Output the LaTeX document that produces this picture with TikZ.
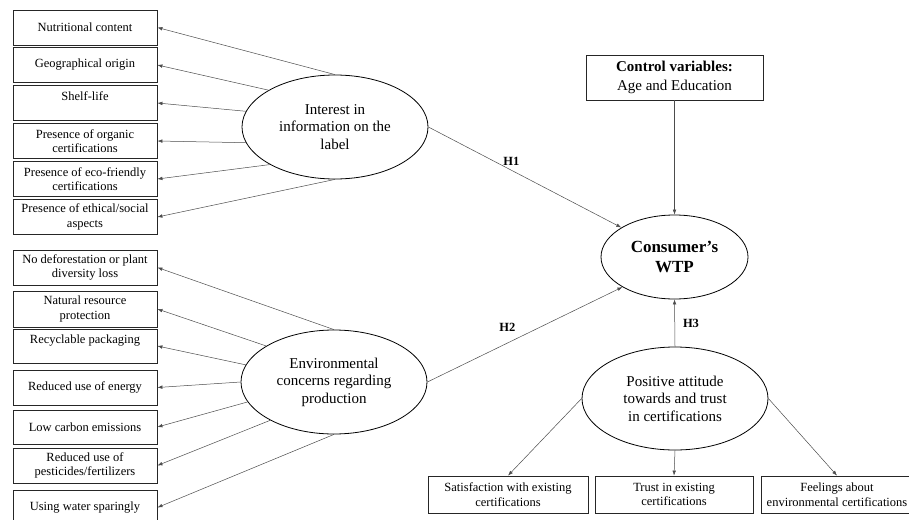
\documentclass[tikz,border=0pt]{standalone}
\usepackage{fontspec}
\setmainfont{Liberation Serif}
\usetikzlibrary{shapes.geometric,arrows.meta}
\begin{document}
\begin{tikzpicture}[x=1pt,y=-1pt,
  box/.style={draw=black!85, line width=0.8pt, minimum width=144pt, minimum height=35pt, align=center, font=\fontsize{12.5}{14.5}\selectfont},
  construct/.style={draw, ellipse, line width=0.8pt, minimum width=186pt, minimum height=104pt, align=center, font=\fontsize{15}{17.5}\selectfont},
  link/.style={draw=black!70, line width=0.5pt, -{Latex[length=5pt,width=3.6pt]}},
  hyp/.style={font=\bfseries\fontsize{12.5}{14}\selectfont}]
\tikzstyle{every node}+=[inner sep=0pt]
\useasboundingbox (0,0) rectangle (909,519);
% label items
\node (n1) [box] at (85,27.5) {Nutritional content};
\node (n2) [box] at (85,65) {Geographical origin};
\node (n3) [box] at (85,103) {Shelf-life\\\mbox{}};
\node (n4) [box] at (85,141) {Presence of organic\\certifications};
\node (n5) [box] at (85,179) {Presence of eco-friendly\\certifications};
\node (n6) [box] at (85,217) {Presence of ethical/social\\aspects};
% production items
\node (m1) [box] at (85,267.5) {No deforestation or plant\\diversity loss};
\node (m2) [box, minimum height=36pt] at (85,309) {Natural resource\\protection};
\node (m3) [box, minimum height=34pt] at (85,346) {Recyclable packaging\\\mbox{}};
\node (m4) [box] at (85,387.5) {Reduced use of energy};
\node (m5) [box, minimum height=34pt] at (85,427) {Low carbon emissions};
\node (m6) [box] at (85,465.5) {Reduced use of\\pesticides/fertilizers};
\node (m7) [box] at (85,507.5) {Using water sparingly};
% constructs
\node (interest) [construct] at (335,127) {Interest in\\information on the\\label};
\node (environ) [construct] at (334,382) {Environmental\\concerns regarding\\production};
\node (wtp) [construct, minimum width=147pt, minimum height=84pt, font=\bfseries\fontsize{17}{20}\selectfont] at (674.5,257) {Consumer's\\WTP};
\node (attitude) [construct, minimum height=103pt] at (675,398.5) {Positive attitude\\towards and trust\\in certifications};
\node (control) [box, minimum width=177pt, minimum height=45pt, font=\fontsize{15}{19}\selectfont] at (674.5,77.5) {\textbf{Control variables:}\\Age and Education};
% certification items
\node (c1) [box, minimum width=160pt, minimum height=37pt] at (508,494.5) {Satisfaction with existing\\certifications};
\node (c2) [box, minimum width=158pt, minimum height=37pt] at (674,494.5) {Trust in existing\\certifications};
\node (c3) [box, minimum width=152pt, minimum height=37pt] at (837,494.5) {Feelings about\\environmental certifications};
% indicators
\draw [link] (interest.90) -- (n1.east);
\draw [link] (interest.151) -- (n2.east);
\draw [link] (interest.170) -- (n3.east);
\draw [link] (interest.190) -- (n4.east);
\draw [link] (interest.210) -- (n5.east);
\draw [link] (interest.270) -- (n6.east);
\draw [link] (environ.90) -- (m1.east);
\draw [link] (environ.152) -- (m2.east);
\draw [link] (environ.169) -- (m3.east);
\draw [link] (environ.180) -- (m4.east);
\draw [link] (environ.193) -- (m5.east);
\draw [link] (environ.211) -- (m6.east);
\draw [link] (environ.270) -- (m7.east);
\draw [link] (attitude.west) -- (c1.north);
\draw [link] (attitude.south) -- (c2.north);
\draw [link] (attitude.east) -- (c3.north);
% hypotheses
\draw [link] (control.south) -- (wtp.north);
\draw [link] (interest.east) -- (wtp.151) node [hyp, pos=0.43, above=4pt] {H1};
\draw [link] (environ.east) -- (wtp.210) node [hyp, pos=0.41, above=11pt] {H2};
\draw [link] (attitude.north) -- (wtp.south) node [hyp, pos=0.5, right=8pt] {H3};
\end{tikzpicture}
\end{document}
